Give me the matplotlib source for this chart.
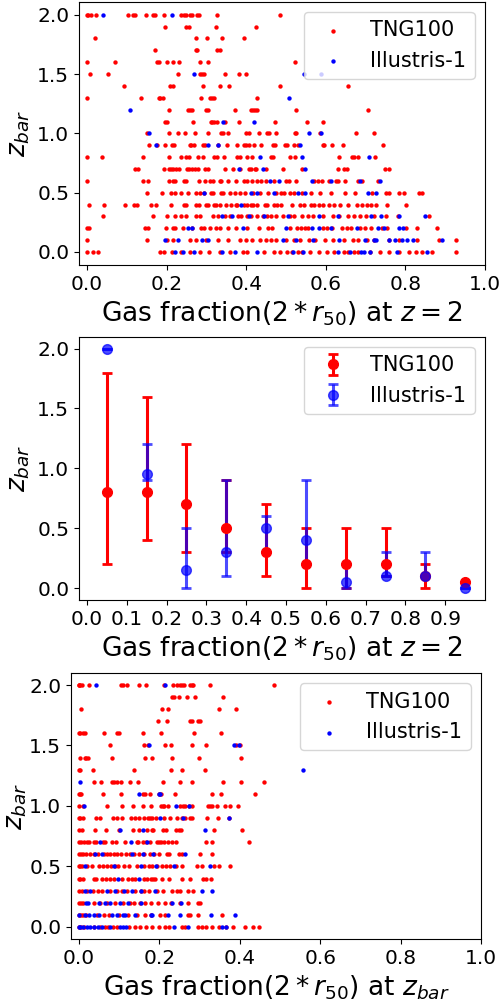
#### Workspace setup ####
import matplotlib
matplotlib.use("Agg")
import matplotlib.pyplot as plt

#### Data ####
# bar formation redshift levels, one row of gas fractions per level (top -> bottom)
zbar_levels = [2.0, 1.9, 1.8, 1.7, 1.6, 1.5, 1.4, 1.3, 1.2, 1.1, 1.0,
               0.9, 0.8, 0.7, 0.6, 0.5, 0.4, 0.3, 0.2, 0.1, 0.0]

# Panel 1: gas fraction at z = 2
tng_fgas_z2 = [
    [0.0, 0.003, 0.009, 0.023, 0.104, 0.115, 0.12, 0.148, 0.165, 0.17, 0.194, 0.236, 0.243, 0.249, 0.258, 0.264, 0.277, 0.282, 0.326, 0.486],
    [0.196, 0.25, 0.256, 0.323, 0.424],
    [0.019, 0.274, 0.302, 0.339, 0.395],
    [0.172, 0.273, 0.277, 0.327, 0.333],
    [0.0, 0.071, 0.176, 0.18, 0.202, 0.216, 0.232, 0.285, 0.304, 0.523],
    [0.008, 0.053, 0.229, 0.283, 0.288, 0.295, 0.348, 0.383, 0.40],
    [0.092, 0.208, 0.215, 0.292, 0.333, 0.356, 0.486, 0.656],
    [0.0, 0.135, 0.18, 0.183, 0.19, 0.287, 0.308, 0.313, 0.319, 0.428],
    [0.207, 0.254, 0.259, 0.264, 0.30, 0.304, 0.371, 0.411, 0.416, 0.422, 0.427, 0.524, 0.707],
    [0.196, 0.20, 0.267, 0.311, 0.314, 0.32, 0.327, 0.346, 0.381, 0.472, 0.554, 0.592],
    [0.151, 0.207, 0.228, 0.247, 0.271, 0.304, 0.337, 0.343, 0.354, 0.399, 0.406, 0.431, 0.452, 0.457, 0.474, 0.523, 0.525, 0.586, 0.675, 0.721],
    [0.157, 0.176, 0.196, 0.214, 0.218, 0.258, 0.262, 0.268, 0.292, 0.296, 0.329, 0.353, 0.376, 0.394, 0.40, 0.406, 0.419, 0.436, 0.467, 0.472, 0.497, 0.503, 0.519, 0.531, 0.593, 0.596, 0.616, 0.644, 0.744],
    [0.0, 0.037, 0.14, 0.205, 0.236, 0.249, 0.257, 0.28, 0.292, 0.319, 0.327, 0.345, 0.377, 0.385, 0.402, 0.414, 0.462, 0.467, 0.51, 0.523, 0.632, 0.666, 0.672, 0.682, 0.724],
    [0.121, 0.129, 0.193, 0.205, 0.211, 0.217, 0.224, 0.232, 0.251, 0.257, 0.263, 0.271, 0.28, 0.297, 0.304, 0.347, 0.366, 0.385, 0.406, 0.413, 0.421, 0.424, 0.45, 0.492, 0.539, 0.631, 0.645, 0.653, 0.749, 0.759],
    [0.0, 0.141, 0.153, 0.206, 0.215, 0.221, 0.245, 0.249, 0.281, 0.297, 0.31, 0.316, 0.333, 0.337, 0.355, 0.375, 0.395, 0.403, 0.414, 0.426, 0.438, 0.449, 0.469, 0.501, 0.507, 0.524, 0.571, 0.58, 0.591, 0.607, 0.625, 0.631, 0.647, 0.681, 0.691, 0.732],
    [0.151, 0.188, 0.21, 0.221, 0.236, 0.254, 0.275, 0.284, 0.294, 0.312, 0.317, 0.337, 0.341, 0.36, 0.371, 0.385, 0.396, 0.416, 0.434, 0.456, 0.474, 0.487, 0.494, 0.511, 0.519, 0.54, 0.563, 0.585, 0.613, 0.648, 0.673, 0.717, 0.751, 0.758, 0.785, 0.797, 0.833, 0.842],
    [0.004, 0.043, 0.095, 0.118, 0.126, 0.161, 0.173, 0.212, 0.243, 0.248, 0.273, 0.282, 0.298, 0.304, 0.319, 0.324, 0.335, 0.35, 0.363, 0.375, 0.378, 0.395, 0.402, 0.411, 0.416, 0.427, 0.448, 0.452, 0.471, 0.477, 0.487, 0.516, 0.536, 0.544, 0.563, 0.571, 0.584, 0.594, 0.608, 0.62, 0.636, 0.657, 0.679, 0.691, 0.703, 0.714, 0.726, 0.755, 0.801],
    [0.04, 0.166, 0.202, 0.222, 0.237, 0.248, 0.275, 0.285, 0.316, 0.328, 0.348, 0.36, 0.38, 0.387, 0.401, 0.411, 0.426, 0.441, 0.452, 0.462, 0.474, 0.493, 0.511, 0.519, 0.54, 0.555, 0.569, 0.593, 0.617, 0.634, 0.656, 0.672, 0.686, 0.701, 0.722, 0.752, 0.782, 0.86],
    [0.0, 0.004, 0.145, 0.153, 0.198, 0.215, 0.221, 0.241, 0.265, 0.286, 0.294, 0.31, 0.323, 0.335, 0.354, 0.375, 0.403, 0.432, 0.455, 0.466, 0.511, 0.528, 0.538, 0.547, 0.555, 0.593, 0.603, 0.615, 0.64, 0.653, 0.664, 0.686, 0.698, 0.714, 0.742, 0.753, 0.802, 0.828, 0.88],
    [0.0, 0.15, 0.20, 0.215, 0.258, 0.274, 0.299, 0.33, 0.354, 0.384, 0.40, 0.414, 0.435, 0.451, 0.463, 0.474, 0.499, 0.519, 0.536, 0.557, 0.574, 0.599, 0.618, 0.645, 0.668, 0.682, 0.703, 0.72, 0.758, 0.785, 0.829, 0.885, 0.926],
    [0.0, 0.016, 0.028, 0.183, 0.194, 0.213, 0.236, 0.259, 0.285, 0.307, 0.335, 0.359, 0.391, 0.402, 0.444, 0.469, 0.486, 0.503, 0.516, 0.53, 0.54, 0.561, 0.582, 0.603, 0.62, 0.645, 0.657, 0.67, 0.681, 0.712, 0.737, 0.758, 0.783, 0.809, 0.826, 0.841, 0.868, 0.927],
]
ill_fgas_z2 = [
    [0.041, 0.213], [], [], [], [], [0.268, 0.546, 0.588], [], [0.508], [0.107], [0.341, 0.419],
    [0.157, 0.559, 0.588],
    [0.173, 0.305, 0.328, 0.534],
    [0.435, 0.54, 0.708],
    [0.382, 0.442, 0.549],
    [0.46, 0.482, 0.565, 0.613, 0.686, 0.735],
    [0.293, 0.412, 0.427, 0.469, 0.531, 0.548, 0.706, 0.726],
    [0.388],
    [0.339, 0.365, 0.407, 0.444, 0.504, 0.584, 0.631, 0.713, 0.739, 0.785, 0.848],
    [0.253, 0.265, 0.392, 0.50, 0.566, 0.583, 0.612, 0.678, 0.73, 0.746, 0.784, 0.793],
    [0.195, 0.228, 0.289, 0.305, 0.492, 0.526, 0.569, 0.632, 0.698, 0.722, 0.727, 0.759, 0.773, 0.791, 0.804, 0.82, 0.891],
    [0.222, 0.241, 0.27, 0.34, 0.371, 0.428, 0.518, 0.543, 0.63, 0.66, 0.688, 0.696, 0.711, 0.778, 0.854],
]

# Panel 2: binned z_bar (median with range) vs gas fraction at z = 2
bin_centres = [0.05, 0.15, 0.25, 0.35, 0.45, 0.55, 0.65, 0.75, 0.85, 0.95]
tng_zbar_mid = [0.8, 0.8, 0.7, 0.5, 0.3, 0.2, 0.2, 0.2, 0.1, 0.05]
tng_zbar_lo = [0.2, 0.4, 0.3, 0.3, 0.1, 0.0, 0.0, 0.1, 0.0, 0.05]
tng_zbar_hi = [1.8, 1.6, 1.2, 0.9, 0.7, 0.5, 0.5, 0.5, 0.2, 0.05]
ill_zbar_mid = [2.0, 0.95, 0.15, 0.3, 0.5, 0.4, 0.05, 0.1, 0.1, 0.0]
ill_zbar_lo = [2.0, 0.9, 0.0, 0.1, 0.3, 0.2, 0.0, 0.1, 0.1, 0.0]
ill_zbar_hi = [2.0, 1.2, 0.5, 0.9, 0.6, 0.9, 0.2, 0.3, 0.3, 0.0]

# Panel 3: gas fraction at z_bar
tng_fgas_zbar = [
    [0.0, 0.0, 0.003, 0.007, 0.024, 0.104, 0.11, 0.119, 0.148, 0.167, 0.212, 0.235, 0.244, 0.25, 0.255, 0.261, 0.275, 0.28, 0.284, 0.326, 0.486],
    [0.231, 0.237, 0.249, 0.268, 0.288, 0.357],
    [0.004, 0.206, 0.221, 0.349, 0.391],
    [0.197, 0.219, 0.276, 0.28, 0.295, 0.30],
    [0.0, 0.003, 0.011, 0.014, 0.061, 0.095, 0.099, 0.159, 0.205, 0.286, 0.352],
    [0.078, 0.162, 0.171, 0.213, 0.228, 0.282, 0.315, 0.391, 0.40],
    [0.002, 0.015, 0.018, 0.022, 0.082, 0.163, 0.181, 0.231, 0.299, 0.402],
    [0.0, 0.002, 0.034, 0.136, 0.229, 0.256, 0.314],
    [0.038, 0.055, 0.081, 0.087, 0.094, 0.105, 0.127, 0.146, 0.208, 0.25, 0.282, 0.357, 0.403, 0.461],
    [0.0, 0.002, 0.005, 0.06, 0.104, 0.158, 0.163, 0.177, 0.20, 0.205, 0.238, 0.332, 0.352, 0.437],
    [0.0, 0.009, 0.069, 0.106, 0.135, 0.158, 0.179, 0.205, 0.21, 0.212, 0.221, 0.252, 0.258, 0.263, 0.273, 0.282, 0.32, 0.326, 0.331, 0.342, 0.363, 0.376, 0.396],
    [0.0, 0.003, 0.009, 0.043, 0.051, 0.085, 0.094, 0.107, 0.13, 0.138, 0.15, 0.162, 0.171, 0.176, 0.182, 0.191, 0.211, 0.226, 0.244, 0.256, 0.263, 0.277, 0.282, 0.318, 0.346, 0.372],
    [0.0, 0.007, 0.039, 0.066, 0.10, 0.135, 0.15, 0.17, 0.181, 0.184, 0.21, 0.216, 0.241, 0.249, 0.253, 0.336, 0.405],
    [0.0, 0.005, 0.012, 0.019, 0.024, 0.036, 0.043, 0.06, 0.065, 0.083, 0.091, 0.114, 0.143, 0.146, 0.158, 0.166, 0.176, 0.193, 0.199, 0.205, 0.212, 0.221, 0.231, 0.241, 0.317, 0.331, 0.422],
    [0.0, 0.005, 0.01, 0.017, 0.027, 0.036, 0.048, 0.061, 0.07, 0.078, 0.088, 0.095, 0.104, 0.116, 0.127, 0.137, 0.148, 0.161, 0.176, 0.187, 0.20, 0.218, 0.224, 0.249, 0.257, 0.301, 0.332],
    [0.0, 0.003, 0.008, 0.02, 0.032, 0.049, 0.06, 0.07, 0.079, 0.089, 0.098, 0.112, 0.125, 0.143, 0.161, 0.174, 0.181, 0.193, 0.207, 0.216, 0.227, 0.242, 0.255, 0.294, 0.307, 0.336, 0.348, 0.376],
    [0.0, 0.003, 0.01, 0.036, 0.043, 0.058, 0.067, 0.078, 0.086, 0.107, 0.122, 0.132, 0.139, 0.162, 0.168, 0.178, 0.184, 0.189, 0.206, 0.225, 0.256, 0.276, 0.309, 0.317, 0.328],
    [0.0, 0.007, 0.021, 0.034, 0.046, 0.056, 0.076, 0.095, 0.106, 0.12, 0.139, 0.153, 0.162, 0.174, 0.193, 0.208, 0.232, 0.243, 0.252, 0.272, 0.284],
    [0.0, 0.006, 0.011, 0.038, 0.052, 0.07, 0.09, 0.11, 0.127, 0.137, 0.152, 0.165, 0.178, 0.197, 0.213, 0.228, 0.251, 0.27, 0.295, 0.302],
    [0.0, 0.006, 0.011, 0.018, 0.045, 0.061, 0.075, 0.099, 0.123, 0.143, 0.163, 0.178, 0.201, 0.215, 0.27, 0.276, 0.295, 0.356],
    [0.0, 0.005, 0.013, 0.036, 0.052, 0.065, 0.073, 0.085, 0.095, 0.125, 0.139, 0.151, 0.167, 0.181, 0.20, 0.214, 0.225, 0.255, 0.264, 0.297, 0.305, 0.315, 0.332, 0.348, 0.366, 0.383, 0.414, 0.432, 0.447],
]
ill_fgas_zbar = [
    [0.041, 0.215], [], [], [], [], [0.174, 0.385, 0.399], [], [0.556], [0.002],
    [0.148, 0.198, 0.202],
    [0.013, 0.241, 0.273],
    [0.202, 0.259, 0.374],
    [0.102, 0.158, 0.313],
    [0.052, 0.129, 0.169],
    [0.04, 0.056, 0.132, 0.158, 0.183, 0.263],
    [0.016, 0.087, 0.153, 0.191, 0.236, 0.326],
    [0.097, 0.148],
    [0.014, 0.028, 0.07, 0.089, 0.112, 0.133, 0.154, 0.189, 0.307, 0.332],
    [0.017, 0.023, 0.05, 0.065, 0.078, 0.103, 0.121, 0.155, 0.232, 0.253],
    [0.0, 0.014, 0.026, 0.036, 0.05, 0.082, 0.094, 0.11, 0.114, 0.14, 0.179, 0.182, 0.222, 0.252, 0.328, 0.388],
    [0.0, 0.002, 0.011, 0.019, 0.027, 0.036, 0.046, 0.056, 0.077, 0.102, 0.11, 0.117, 0.237, 0.27, 0.356, 0.366],
]


def flatten(rows):
    xs, zs = [], []
    for lvl, row in zip(zbar_levels, rows):
        xs.extend(row)
        zs.extend([lvl] * len(row))
    return xs, zs


def style_axis(ax, xlabel, ypad=4):
    ax.set_ylabel(r"$z_{bar}$", fontsize=19, labelpad=ypad)
    ax.set_xlabel(xlabel, fontsize=19)
    ax.tick_params(labelsize=14.5)
    ax.legend(loc="upper right", fontsize=15)


#### MAIN ####
fig = plt.figure(figsize=(5.01, 10.02), dpi=100)
ax1 = fig.add_axes([0.1577, 0.7355, 0.8104, 0.2628])
ax2 = fig.add_axes([0.1577, 0.4012, 0.8104, 0.2628])
ax3 = fig.add_axes([0.1417, 0.0629, 0.8184, 0.2655])

# Top: scatter at z = 2
x, z = flatten(tng_fgas_z2)
ax1.scatter(x, z, s=10, c="r", linewidths=0, label="TNG100")
x, z = flatten(ill_fgas_z2)
ax1.scatter(x, z, s=10, c="b", linewidths=0, label="Illustris-1")
ax1.set_xlim(-0.02, 1.0)
ax1.set_ylim(-0.11, 2.11)
style_axis(ax1, r"Gas fraction($2*r_{50}$) at $z=2$")

# Middle: binned medians with ranges
tng_err = [[m - lo for m, lo in zip(tng_zbar_mid, tng_zbar_lo)],
           [hi - m for m, hi in zip(tng_zbar_mid, tng_zbar_hi)]]
ill_err = [[m - lo for m, lo in zip(ill_zbar_mid, ill_zbar_lo)],
           [hi - m for m, hi in zip(ill_zbar_mid, ill_zbar_hi)]]
ax2.errorbar(bin_centres, tng_zbar_mid, yerr=tng_err, fmt="o", color="r",
             ms=7, elinewidth=2.2, capsize=3.5, capthick=2, label="TNG100")
ax2.errorbar(bin_centres, ill_zbar_mid, yerr=ill_err, fmt="o", color="b",
             ms=7, elinewidth=2.2, capsize=3.5, capthick=2, alpha=0.7,
             label="Illustris-1")
ax2.set_xlim(-0.02, 1.0)
ax2.set_ylim(-0.1, 2.1)
ax2.set_xticks([0.0, 0.1, 0.2, 0.3, 0.4, 0.5, 0.6, 0.7, 0.8, 0.9])
style_axis(ax2, r"Gas fraction($2*r_{50}$) at $z=2$")

# Bottom: scatter at z_bar
x, z = flatten(tng_fgas_zbar)
ax3.scatter(x, z, s=10, c="r", linewidths=0, label="TNG100")
x, z = flatten(ill_fgas_zbar)
ax3.scatter(x, z, s=10, c="b", linewidths=0, label="Illustris-1")
ax3.set_xlim(-0.02, 1.0)
ax3.set_ylim(-0.1, 2.1)
style_axis(ax3, r"Gas fraction($2*r_{50}$) at $z_{bar}$", ypad=0)

fig.savefig("out.png", dpi=100)
